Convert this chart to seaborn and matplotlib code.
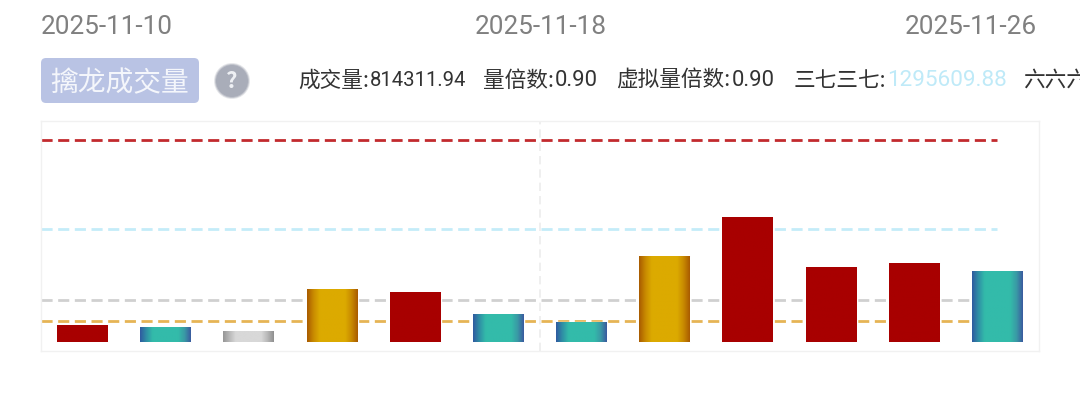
import matplotlib
matplotlib.use("Agg")
import matplotlib.pyplot as plt
from matplotlib.colors import LinearSegmentedColormap
from matplotlib.patches import FancyBboxPatch, Circle
import numpy as np
import pandas as pd
import seaborn as sns

# ---- data ----
categories = ["1", "2", "3", "4", "5", "6", "7", "8", "9", "10", "11", "12"]
volumes = [190000, 172000, 126000, 602000, 573000, 321000,
           229000, 986000, 1425000, 860000, 906000, 814311.94]
bar_kinds = ["red", "teal", "silver", "gold", "red", "teal",
             "teal", "gold", "red", "red", "red", "teal"]
line_values = [2317000, 1295609.88, 482000, 241000]
date_labels = ["2025-11-10", "2025-11-18", "2025-11-26"]

# ---- styling ----
W, H = 1080, 395
sns.set_theme(style="white")
plt.rcParams["font.family"] = ["Noto Sans CJK SC", "DejaVu Sans"]
NUM = ["Roboto", "Noto Sans CJK SC"]
line_colors = ["#c22a2e", "#c4ecf9", "#d0d0d0", "#e6b455"]
stops = {
    "red": ["#a80000", "#a80000"],
    "teal": ["#2f5aa0", "#2f8fa5", "#33bbaa", "#33bbaa", "#33bbaa", "#33bbaa", "#33bbaa", "#3a9aa5", "#3a5a9f"],
    "gold": ["#a85a00", "#c88a00", "#dcaa00", "#dcaa00", "#dcaa00", "#dcaa00", "#dcaa00", "#c88a00", "#a85a00"],
    "silver": ["#969696", "#b8b8b8", "#d8d8d8", "#d8d8d8", "#d8d8d8", "#d8d8d8", "#d8d8d8", "#b8b8b8", "#8f8f8f"],
}

fig = plt.figure(figsize=(W / 100, H / 100), dpi=100, facecolor="white")
ax = fig.add_axes([41 / W, (H - 351) / H, 998 / W, 230 / H])

df = pd.DataFrame({"cat": categories, "vol": volumes})
sns.barplot(data=df, x="cat", y="vol", order=categories, color="#a80000",
            width=0.613, saturation=1, ax=ax, zorder=3)

per_px = 814311.94 / 71
ylim = (-9 * per_px, 221 * per_px)

for v, c in zip(line_values, line_colors):
    ax.plot([-0.5, 11], [v, v], color=c, lw=2.0, dashes=(4, 2), zorder=2)
ax.axvline(5.5, color="#ececec", lw=1.2, dashes=(5, 3), zorder=1)

patches = sorted(ax.patches, key=lambda p: p.get_x())
for p, kind in zip(patches, bar_kinds):
    cmap = LinearSegmentedColormap.from_list(kind, stops[kind])
    x0, w, h = p.get_x(), p.get_width(), p.get_height()
    ax.imshow(np.linspace(0, 1, 256)[None, :], cmap=cmap, aspect="auto",
              extent=(x0, x0 + w, 0, h), zorder=3.5, interpolation="bilinear")

ax.set_xlim(-0.5, 11.5)
ax.set_ylim(*ylim)
ax.set_xlabel("")
ax.set_ylabel("")
ax.set_xticks([])
ax.set_yticks([])
for s in ax.spines.values():
    s.set_color("#f1f1f1")
    s.set_linewidth(1)

# ---- header, placed in figure pixels ----
def T(x, y, s, **kw):
    fig.text(x / W, 1 - y / H, s, va="center", **kw)

date_xs = [41, 475, 905]
for x, s in zip(date_xs, date_labels):
    T(x, 27.5, s, fontsize=18.8, color="#808080", ha="left", family=NUM)

overlay = fig.add_axes([0, 0, 1, 1], facecolor="none", zorder=5)
overlay.set_xlim(0, W)
overlay.set_ylim(H, 0)
overlay.axis("off")
overlay.add_patch(FancyBboxPatch((41, 58), 158, 45, boxstyle="round,pad=0,rounding_size=5",
                                 mutation_aspect=1, fc="#b9c3e4", ec="none"))
for r, a in zip([18, 17, 16], [0.3, 0.6, 1]):
    overlay.add_patch(Circle((232, 81), r, fc="#a9adb9", ec="none", alpha=a))
overlay.text(232, 81, "?", ha="center", va="center", color="#eef0f4", fontsize=16, fontweight="bold")
overlay.text(120, 83, "擒龙成交量", ha="center", va="center", color="#f4f6fb", fontsize=20)

tc = "#333333"
FS = 15.6
T(298, 81, "成交量:", fontsize=FS, color=tc)
T(370, 81, "814311.94", fontsize=14.6, color=tc, family=NUM)
T(483, 81, "量倍数:", fontsize=FS, color=tc)
T(555, 81, "0.90", fontsize=15.8, color=tc, family=NUM)
T(616, 81, "虚拟量倍数:", fontsize=FS, color=tc)
T(732, 81, "0.90", fontsize=15.8, color=tc, family=NUM)
T(794, 81, "三七三七:", fontsize=FS, color=tc)
T(887, 81, "1295609.88", fontsize=16.2, color="#bfeaf8", family=NUM)
T(1023, 81, "六六六", fontsize=FS, color=tc)

fig.savefig("out.png", dpi=100, facecolor="white")
